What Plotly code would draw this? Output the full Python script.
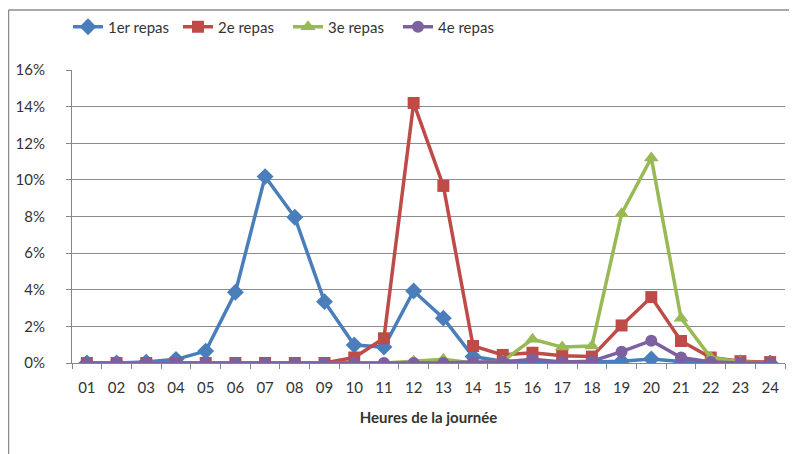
import plotly.graph_objects as go

hours = ["01","02","03","04","05","06","07","08","09","10","11","12",
         "13","14","15","16","17","18","19","20","21","22","23","24"]
repas1 = [0.0,0.0,0.05,0.2,0.65,3.86,10.18,7.96,3.35,0.98,0.87,3.93,
          2.45,0.35,0.1,0.05,0.05,0.05,0.1,0.22,0.08,0.05,0.0,0.0]
repas2 = [0.0,0.0,0.0,0.0,0.0,0.0,0.0,0.0,0.0,0.3,1.35,14.2,
          9.67,0.93,0.44,0.56,0.4,0.35,2.05,3.6,1.2,0.3,0.1,0.05]
repas3 = [0.0,0.0,0.0,0.0,0.0,0.0,0.0,0.0,0.0,0.0,0.0,0.1,
          0.2,0.0,0.1,1.3,0.87,0.93,8.15,11.2,2.45,0.3,0.05,0.0]
repas4 = [0.0,0.0,0.0,0.0,0.0,0.0,0.0,0.0,0.0,0.0,0.0,0.0,
          0.0,0.05,0.05,0.2,0.05,0.1,0.62,1.22,0.3,0.05,0.0,0.0]

series = [
    ("1er repas", repas1, "#4A7EBB", "diamond", 13),
    ("2e repas", repas2, "#BE4B48", "square", 12),
    ("3e repas", repas3, "#98B954", "triangle-up", 13),
    ("4e repas", repas4, "#7D60A0", "circle", 12),
]

fig = go.Figure()
for name, vals, col, sym, sz in series:
    fig.add_trace(go.Scatter(
        x=hours, y=[v / 100 for v in vals], name=name, mode="lines+markers",
        line=dict(color=col, width=3.5),
        marker=dict(symbol=sym, size=sz, color=col),
    ))

# page body has an 8px default margin: figure coords = screen coords - 8
OFF = 8
W, H = 797 - OFF, 454 - OFF
L, R, T, B = 72 - OFF, 785 - OFF, 70 - OFF, 363 - OFF

def px(x):
    return (x - OFF - L) / (R - L)

def py(y):
    return (B - (y - OFF)) / (B - T)

fig.add_shape(type="line", xref="paper", yref="paper",
              x0=px(8.5), x1=px(8.5), y0=py(10), y1=py(454),
              line=dict(color="#8C8C8C", width=1.5))
fig.add_shape(type="line", xref="paper", yref="paper",
              x0=px(8.5), x1=px(797), y0=py(10), y1=py(10),
              line=dict(color="#8C8C8C", width=1.5))

fig.update_layout(
    width=W, height=H,
    margin=dict(l=L, r=W - R, t=T, b=H - B, autoexpand=False),
    paper_bgcolor="white", plot_bgcolor="white",
    font=dict(family="Lato, Liberation Sans, sans-serif", size=15, color="#333333"),
    showlegend=True,
    legend=dict(orientation="h", x=px(68), xanchor="left", y=py(27), yanchor="middle",
                entrywidth=65, entrywidthmode="pixels",
                font=dict(size=15, color="#333333"), bgcolor="rgba(0,0,0,0)",
                itemclick=False),
    xaxis=dict(
        type="category", range=[-0.5, 23.5],
        showgrid=False, showline=True, linecolor="#868686", linewidth=1,
        ticks="outside", ticklen=5, tickcolor="#868686", tickson="boundaries",
        tickfont=dict(size=15, color="#333333"), ticklabelstandoff=11,
        title=dict(text="<b>Heures de la journée</b>", font=dict(size=15, color="#333333"),
                   standoff=17),
        zeroline=False,
    ),
    yaxis=dict(
        range=[0, 0.16], dtick=0.02, tickformat=".0%",
        showgrid=True, gridcolor="#8C8C8C", gridwidth=1,
        showline=True, linecolor="#868686", linewidth=1,
        ticks="outside", ticklen=5, tickcolor="#868686",
        tickfont=dict(size=15, color="#333333"), ticklabelstandoff=18,
        zeroline=False,
    ),
)

fig.write_html("out.html")
